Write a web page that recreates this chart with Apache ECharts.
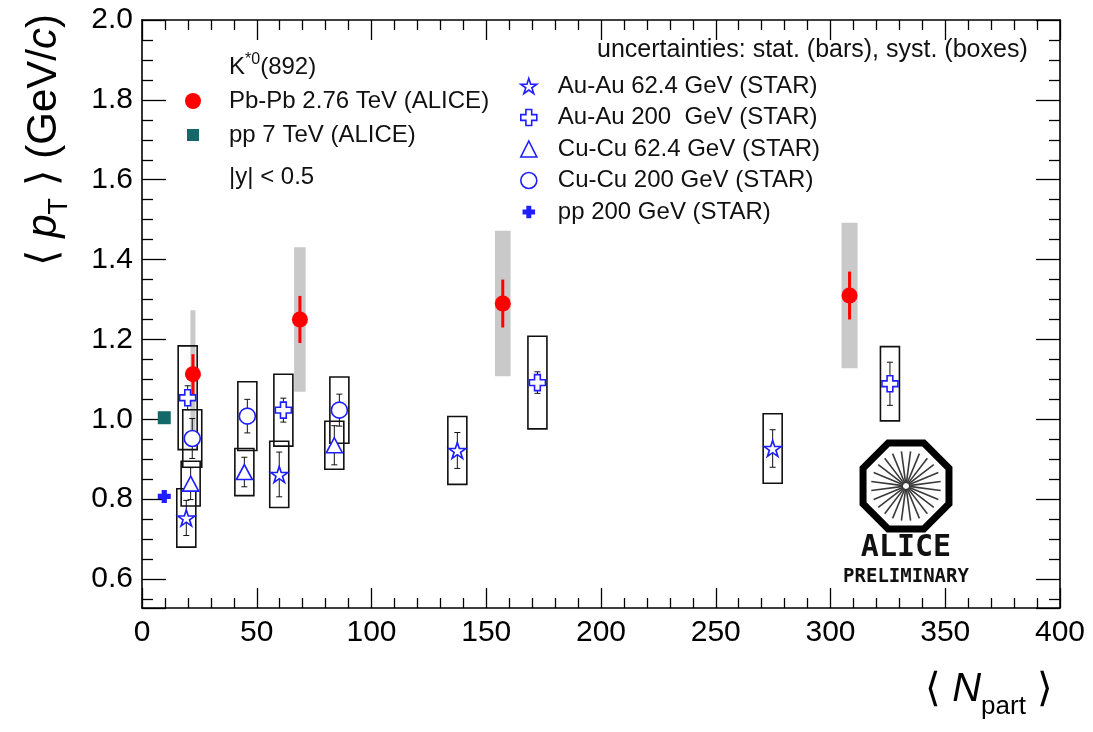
<!DOCTYPE html>
<html><head><meta charset="utf-8">
<script src="https://cdn.jsdelivr.net/npm/echarts@6/dist/echarts.min.js"></script>
<style>html,body{margin:0;padding:0;background:#fff}#c{width:1093px;height:732px}</style>
</head><body><div id="c"></div>
<script>
// ---------------- data ----------------
const yTickLabels = ['0.6','0.8','1.0','1.2','1.4','1.6','1.8','2.0'];
const xTickLabels = ['0','50','100','150','200','250','300','350','400'];

// ALICE K*0 Pb-Pb 2.76 TeV
const aliceNpart    = [22.2, 68.8, 157.2, 308.3];
const aliceMeanPt   = [1.113, 1.250, 1.290, 1.310];
const aliceStatErr  = [0.050, 0.059, 0.060, 0.060];
const aliceSystErr  = [0.160, 0.181, 0.182, 0.182];
const aliceNpartErr = [1.1, 2.5, 3.4, 3.5];

// ALICE pp 7 TeV
const ppAliceNpart  = [9.7];
const ppAliceMeanPt = [1.004];
const ppAliceStat   = [0.012];

// STAR Au-Au 62.4 GeV
const auau62Npart = [19.3, 59.8, 137.4, 274.8];
const auau62Pt    = [0.753, 0.862, 0.922, 0.927];
const auau62Stat  = [0.044, 0.056, 0.045, 0.047];
const auau62Syst  = [0.073, 0.083, 0.085, 0.087];

// STAR Au-Au 200 GeV
const auau200Npart = [19.9, 61.6, 172.3, 325.9];
const auau200Pt    = [1.054, 1.023, 1.092, 1.089];
const auau200Stat  = [0.030, 0.030, 0.027, 0.054];
const auau200Syst  = [0.130, 0.090, 0.116, 0.093];

// STAR Cu-Cu 62.4 GeV
const cucu62Npart = [21.2, 44.6, 83.8];
const cucu62Pt    = [0.839, 0.868, 0.935];
const cucu62Stat  = [0.040, 0.037, 0.049];
const cucu62Syst  = [0.056, 0.059, 0.060];

// STAR Cu-Cu 200 GeV
const cucu200Npart = [21.9, 45.9, 86.0];
const cucu200Pt    = [0.952, 1.008, 1.023];
const cucu200Stat  = [0.050, 0.042, 0.040];
const cucu200Syst  = [0.072, 0.086, 0.083];

// STAR pp 200 GeV
const ppStarNpart = [9.7];
const ppStarPt    = [0.807];
const ppStarStat  = [0.012];

// ---------------- helpers ----------------
const BLUE = '#1e1eff';
const RED = '#ff0000';
const TEAL = '#13696a';
const FONT = 'Liberation Sans, Arial, Helvetica, sans-serif';

const zip = (...arrs) => arrs[0].map((_, i) => arrs.map(a => a[i]));

const STAR_PATH = 'path://M50 0 L61.2 34.6 L97.6 34.5 L68.1 55.9 L79.4 90.5 L50 69 L20.6 90.5 L31.9 55.9 L2.4 34.5 L38.8 34.6 Z';
const CROSS_PATH = 'path://M32 0 L68 0 L68 32 L100 32 L100 68 L68 68 L68 100 L32 100 L32 68 L0 68 L0 32 L32 32 Z';
const FCROSS_PATH = 'path://M30 0 L70 0 L70 30 L100 30 L100 70 L70 70 L70 100 L30 100 L30 70 L0 70 L0 30 L30 30 Z';
// legend icons with a transparent margin so that they draw smaller inside the 16px box
const FCROSS_ICON = 'path://M-14 -14 M30 0 L70 0 L70 30 L100 30 L100 70 L70 70 L70 100 L30 100 L30 70 L0 70 L0 30 L30 30 Z M114 114';
const SQUARE_ICON = 'path://M-2 -2 M0 0 L12 0 L12 12 L0 12 Z M14 14';

function starErrRender(params, api) {
  const x = api.value(0), y = api.value(1), st = api.value(2), sy = api.value(3);
  const c = api.coord([x, y]);
  const top = api.coord([x, y + sy])[1], bot = api.coord([x, y - sy])[1];
  const sTop = api.coord([x, y + st])[1], sBot = api.coord([x, y - st])[1];
  const hw = 9.5, cap = 3;
  return {
    type: 'group',
    children: [
      { type: 'rect', shape: { x: c[0] - hw, y: top, width: 2 * hw, height: bot - top },
        style: { fill: 'none', stroke: '#111', lineWidth: 1.6 } },
      { type: 'line', shape: { x1: c[0], y1: sTop, x2: c[0], y2: sBot }, style: { stroke: '#111', lineWidth: 1 } },
      { type: 'line', shape: { x1: c[0] - cap, y1: sTop, x2: c[0] + cap, y2: sTop }, style: { stroke: '#111', lineWidth: 1 } },
      { type: 'line', shape: { x1: c[0] - cap, y1: sBot, x2: c[0] + cap, y2: sBot }, style: { stroke: '#111', lineWidth: 1 } }
    ]
  };
}

function grayBoxRender(params, api) {
  const x = api.value(0), y = api.value(1), sy = api.value(2), dx = api.value(3);
  const p1 = api.coord([x - dx, y + sy]);
  const p2 = api.coord([x + dx, y - sy]);
  return { type: 'rect', shape: { x: p1[0], y: p1[1], width: p2[0] - p1[0], height: p2[1] - p1[1] },
           style: { fill: '#c9c9c9' } };
}

function statBarRender(color, width) {
  return function (params, api) {
    const x = api.value(0), y = api.value(1), st = api.value(2);
    const a = api.coord([x, y + st]), b = api.coord([x, y - st]);
    return { type: 'line', shape: { x1: a[0], y1: a[1], x2: b[0], y2: b[1] },
             style: { stroke: color, lineWidth: width } };
  };
}

function starSeries(name, npart, pt, stat, syst, symbol, size) {
  return [
    { type: 'custom', name: name + ' err', z: 3, silent: true,
      renderItem: starErrRender, encode: { x: 0, y: 1 },
      data: zip(npart, pt, stat, syst) },
    { type: 'scatter', name: name, z: 6, silent: true, symbol: symbol, symbolSize: size,
      itemStyle: { color: '#ffffff', borderColor: BLUE, borderWidth: 1.6, opacity: 1 },
      data: zip(npart, pt) }
  ];
}

const yLabelFmt = v => {
  const s = v.toFixed(1);
  return (Math.abs(v - parseFloat(s)) < 1e-6 && yTickLabels.includes(s)) ? s : '';
};
const xLabelFmt = v => {
  const s = String(Math.round(v));
  return (Math.abs(v - Math.round(v)) < 1e-6 && xTickLabels.includes(s)) ? s : '';
};

function xAx(pos, showLabel) {
  return {
    type: 'value', position: pos, min: 0, max: 400, interval: 50,
    axisLine: { show: true, onZero: false, lineStyle: { color: '#000', width: 1.6 } },
    axisTick: { show: true, inside: true, length: 20, lineStyle: { color: '#000', width: 1.3 } },
    minorTick: { show: true, splitNumber: 5, length: 10, lineStyle: { color: '#000', width: 1.3 } },
    splitLine: { show: false },
    axisLabel: { show: showLabel, fontSize: 30, color: '#000', fontFamily: FONT, margin: 10, formatter: xLabelFmt }
  };
}
function yAx(pos, showLabel) {
  return {
    type: 'value', position: pos, min: 0.5275, max: 2.0, splitNumber: 7,
    axisLine: { show: true, onZero: false, lineStyle: { color: '#000', width: 1.6 } },
    axisTick: { show: true, inside: true, length: 24, lineStyle: { color: '#000', width: 1.3 } },
    minorTick: { show: true, splitNumber: 4, length: 11, lineStyle: { color: '#000', width: 1.3 } },
    splitLine: { show: false },
    axisLabel: { show: showLabel, fontSize: 30, color: '#000', fontFamily: FONT, margin: 9, formatter: yLabelFmt }
  };
}

// ALICE logo geometry
const logoCx = 906, logoCy = 486, logoR = 46.5;
const octPts = [];
for (let k = 0; k < 8; k++) {
  const a = (22.5 + 45 * k) * Math.PI / 180;
  octPts.push([logoCx + logoR * Math.cos(a), logoCy + logoR * Math.sin(a)]);
}
const spokes = [];
for (let k = 0; k < 24; k++) {
  const a = (k * 15 + 7.5) * Math.PI / 180;
  spokes.push({ type: 'line', shape: { x1: logoCx + 3 * Math.cos(a), y1: logoCy + 3 * Math.sin(a),
    x2: logoCx + 35 * Math.cos(a), y2: logoCy + 35 * Math.sin(a) }, style: { stroke: '#3a3a3a', lineWidth: 1.6 } });
}

const openStyle = { color: '#fff', borderColor: BLUE, borderWidth: 1.6, opacity: 1 };

const option = {
  animation: false,
  backgroundColor: '#ffffff',
  grid: { left: 142, right: 33, top: 20, bottom: 124, containLabel: false },
  xAxis: [xAx('bottom', true), xAx('top', false)],
  yAxis: [yAx('left', true), yAx('right', false)],
  legend: [
    { orient: 'vertical', left: 180, top: 84, itemWidth: 16, itemHeight: 16, itemGap: 10,
      selectedMode: false, textStyle: { fontSize: 24, color: '#111', fontFamily: FONT, padding: [0, 0, 0, 23] },
      data: [
        { name: 'Pb-Pb 2.76 TeV (ALICE)', icon: 'circle', itemStyle: { color: RED, opacity: 1 } },
        { name: 'pp 7 TeV (ALICE)', icon: SQUARE_ICON, itemStyle: { color: TEAL, opacity: 1 } }
      ] },
    { orient: 'vertical', left: 515, top: 69, itemWidth: 16, itemHeight: 16, itemGap: 7.5,
      selectedMode: false, textStyle: { fontSize: 24, color: '#111', fontFamily: FONT, padding: [0, 0, 0, 16] },
      data: [
        { name: 'Au-Au 62.4 GeV (STAR)', icon: STAR_PATH, itemStyle: openStyle },
        { name: 'Au-Au 200  GeV (STAR)', icon: CROSS_PATH, itemStyle: openStyle },
        { name: 'Cu-Cu 62.4 GeV (STAR)', icon: 'triangle', itemStyle: openStyle },
        { name: 'Cu-Cu 200 GeV (STAR)', icon: 'circle', itemStyle: openStyle },
        { name: 'pp 200 GeV (STAR)', icon: FCROSS_ICON, itemStyle: { color: BLUE, opacity: 1 } }
      ] }
  ],
  graphic: [
    { type: 'text', left: 229, top: 52, silent: true,
      style: { text: '{m|K}{s|*0}{m|(892)}', fontFamily: FONT,
        rich: { m: { fontSize: 24, lineHeight: 30, fill: '#111', fontFamily: FONT },
                s: { fontSize: 16, lineHeight: 16, verticalAlign: 'top', fill: '#111', fontFamily: FONT } } } },
    { type: 'text', left: 229, top: 165, silent: true,
      style: { text: '|y| < 0.5', fontSize: 24, fill: '#111', fontFamily: FONT } },
    { type: 'text', left: 597, top: 38, silent: true,
      style: { text: 'uncertainties: stat. (bars), syst. (boxes)', fontSize: 25, fill: '#111', fontFamily: FONT } },
    // y axis title
    { type: 'text', x: 44, y: 14, rotation: Math.PI / 2, silent: true,
      style: { text: '{a|⟨ }{i|p}{s|T}{a| ⟩ (GeV/}{i|c}{a|)}', align: 'right', verticalAlign: 'middle',
        rich: { a: { fontSize: 42, lineHeight: 48, fill: '#000', fontFamily: FONT },
                i: { fontSize: 42, lineHeight: 48, fill: '#000', fontFamily: FONT, fontStyle: 'italic' },
                s: { fontSize: 27, lineHeight: 27, fill: '#000', fontFamily: FONT, verticalAlign: 'top', padding: [26, 0, 0, 0] } } } },
    // x axis title
    { type: 'text', right: 40, top: 668, silent: true,
      style: { text: '{a|⟨ }{i|N}{s|part}{a| ⟩}',
        rich: { a: { fontSize: 40, lineHeight: 44, fill: '#000', fontFamily: FONT },
                i: { fontSize: 40, lineHeight: 44, fill: '#000', fontFamily: FONT, fontStyle: 'italic' },
                s: { fontSize: 26, lineHeight: 26, fill: '#000', fontFamily: FONT, verticalAlign: 'top', padding: [26, 0, 0, 0] } } } },
    // ALICE logo
    { type: 'group', silent: true, children: [
      ...spokes,
      { type: 'polygon', shape: { points: octPts }, style: { fill: 'none', stroke: '#000', lineWidth: 7 } },
      { type: 'text', x: logoCx, y: 548, style: { text: 'ALICE', align: 'center', verticalAlign: 'middle',
          fontSize: 30, fontWeight: 'bold', fontFamily: 'DejaVu Sans Mono, monospace', fill: '#111' } },
      { type: 'text', x: logoCx, y: 577, style: { text: 'PRELIMINARY', align: 'center', verticalAlign: 'middle',
          fontSize: 19, fontWeight: 'bold', fontFamily: 'DejaVu Sans Mono, monospace', fill: '#111' } }
    ] }
  ],
  series: [
    { type: 'custom', name: 'alice syst', z: 1, silent: true, renderItem: grayBoxRender, encode: { x: 0, y: 1 },
      data: zip(aliceNpart, aliceMeanPt, aliceSystErr, aliceNpartErr) },
    ...starSeries('Au-Au 62.4 GeV (STAR)', auau62Npart, auau62Pt, auau62Stat, auau62Syst, STAR_PATH, [17, 16]),
    ...starSeries('Au-Au 200  GeV (STAR)', auau200Npart, auau200Pt, auau200Stat, auau200Syst, CROSS_PATH, 16),
    ...starSeries('Cu-Cu 62.4 GeV (STAR)', cucu62Npart, cucu62Pt, cucu62Stat, cucu62Syst, 'triangle', [16, 15]),
    ...starSeries('Cu-Cu 200 GeV (STAR)', cucu200Npart, cucu200Pt, cucu200Stat, cucu200Syst, 'circle', 16),
    { type: 'custom', name: 'pp star stat', z: 4, silent: true, renderItem: statBarRender(BLUE, 2), encode: { x: 0, y: 1 },
      data: zip(ppStarNpart, ppStarPt, ppStarStat) },
    { type: 'scatter', name: 'pp 200 GeV (STAR)', z: 6, silent: true, symbol: FCROSS_PATH, symbolSize: 13,
      itemStyle: { color: BLUE, opacity: 1 }, data: zip(ppStarNpart, ppStarPt) },
    { type: 'custom', name: 'pp alice stat', z: 4, silent: true, renderItem: statBarRender(TEAL, 3), encode: { x: 0, y: 1 },
      data: zip(ppAliceNpart, ppAliceMeanPt, ppAliceStat) },
    { type: 'scatter', name: 'pp 7 TeV (ALICE)', z: 6, silent: true, symbol: 'rect', symbolSize: 13,
      itemStyle: { color: TEAL, opacity: 1 }, data: zip(ppAliceNpart, ppAliceMeanPt) },
    { type: 'custom', name: 'alice stat', z: 7, silent: true, renderItem: statBarRender(RED, 3), encode: { x: 0, y: 1 },
      data: zip(aliceNpart, aliceMeanPt, aliceStatErr) },
    { type: 'scatter', name: 'Pb-Pb 2.76 TeV (ALICE)', z: 8, silent: true, symbol: 'circle', symbolSize: 16,
      itemStyle: { color: RED, opacity: 1 }, data: zip(aliceNpart, aliceMeanPt) }
  ]
};

const chart = echarts.init(document.getElementById('c'), null, { renderer: 'canvas' });
chart.setOption(option);
</script>
</body></html>
